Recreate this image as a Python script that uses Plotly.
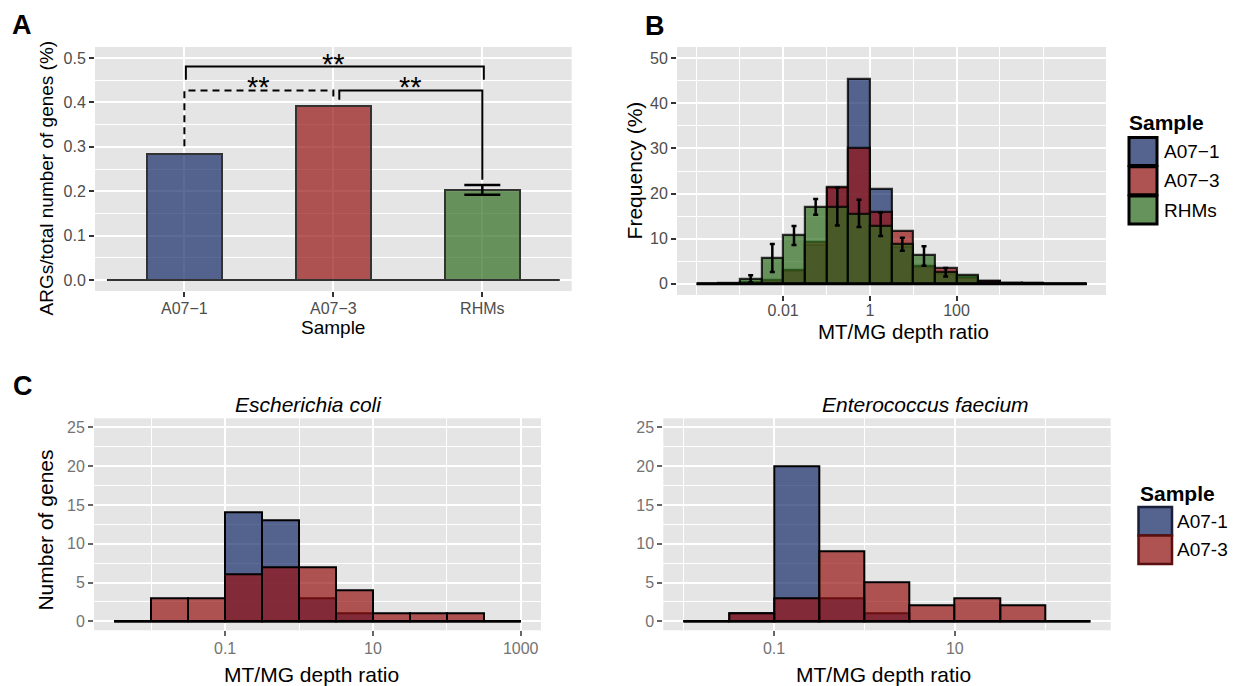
import plotly.graph_objects as go

W, H = 1234, 686

# ---------------- data ----------------
# Panel A
samples_A = ["A07\u22121", "A07\u22123", "RHMs"]
args_pct = [0.283, 0.392, 0.203]
args_err_lo = [None, None, 0.192]
args_err_hi = [None, None, 0.214]
A_yticks = [0.0, 0.1, 0.2, 0.3, 0.4, 0.5]
A_yminor = [0.05, 0.15, 0.25, 0.35, 0.45]
A_baseline_x = [-0.52, 2.52]
# significance brackets (category positions / values)
brackets = [
    dict(x0=0.01, x1=2.01, y=0.481, yl=0.451, yr=0.451, dash="solid"),
    dict(x0=0.0, x1=1.0, y=0.427, yl=0.301, yr=0.406, dash="7px,5px"),
    dict(x0=1.04, x1=2.0, y=0.427, yl=0.406, yr=0.226, dash="solid"),
]
sig_labels = [
    dict(x=1.0, y=0.481, text="**"),
    dict(x=0.5, y=0.427, text="**"),
    dict(x=1.52, y=0.427, text="**"),
]

# Panel B (log10 bin edges of MT/MG depth ratio, frequency %)
B_edges = [-4.0, -3.5, -3.0, -2.5, -2.0, -1.5, -1.0, -0.5, 0.0, 0.5,
           1.0, 1.5, 2.0, 2.5, 3.0, 3.5, 4.0, 4.5, 5.0]
B_A071 = [0, 0, 0.2, 0.4, 2.8, 8.7, 21.2, 45.4, 21.0, 8.2, 3.8, 2.2, 1.3, 0.6, 0.2, 0.1, 0, 0]
B_A073 = [0, 0, 0.3, 0.8, 3.1, 9.3, 21.4, 30.0, 15.9, 11.6, 3.9, 3.5, 1.5, 0.7, 0.2, 0.1, 0, 0]
B_RHMs = [0, 0.15, 1.1, 5.7, 10.8, 17.1, 17.0, 15.4, 12.9, 8.8, 6.3, 2.5, 2.0, 0.2, 0.1, 0, 0, 0]
B_RHMs_lo = [None, None, 0.3, 2.6, 8.6, 15.3, 12.9, 12.6, 10.6, 7.3, 4.0, 1.6, None, None, None, None, None, None]
B_RHMs_hi = [None, None, 1.9, 8.8, 12.8, 18.8, 21.3, 18.6, 15.8, 10.2, 8.3, 3.5, None, None, None, None, None, None]
B_xticks = [-2, 0, 2]
B_xticktext = ["0.01", "1", "100"]
B_xminor = [-4, -3, -1, 1, 3, 4]
B_yticks = [0, 10, 20, 30, 40, 50]
B_yminor = [5, 15, 25, 35, 45]

# Panel C
EC_edges = [-2.5, -2.0, -1.5, -1.0, -0.5, 0.0, 0.5, 1.0, 1.5, 2.0, 2.5, 3.0]
EC_A071 = [0, 0, 0, 14, 13, 3, 1, 0, 0, 0, 0]
EC_A073 = [0, 3, 3, 6, 7, 7, 4, 1, 1, 1, 0]
EF_edges = [-2.0, -1.5, -1.0, -0.5, 0.0, 0.5, 1.0, 1.5, 2.0, 2.5]
EF_A071 = [0, 1, 20, 3, 1, 0, 0, 0, 0]
EF_A073 = [0, 1, 3, 9, 5, 2, 3, 2, 0]
EC_xticks = [-1, 1, 3]
EC_xticktext = ["0.1", "10", "1000"]
EC_xminor = [-2, 0, 2]
EF_xticks = [-1, 1]
EF_xticktext = ["0.1", "10"]
EF_xminor = [-2, 0, 2]
C_yticks = [0, 5, 10, 15, 20, 25]
C_yminor = [2.5, 7.5, 12.5, 17.5, 22.5]

# ---------------- style ----------------
FONT = "Liberation Sans, Arial, Helvetica, sans-serif"
BLUE = "rgba(23,43,106,0.7)"
RED = "rgba(150,19,19,0.7)"
GREEN = "rgba(48,110,33,0.7)"
KEY_BLUE = "rgb(85,99,143)"
KEY_RED = "rgb(174,82,82)"
KEY_GREEN = "rgb(102,146,92)"
BG = "#E5E5E5"


def px(x):
    return x / W


def py(y):
    return 1 - y / H


def centers(edges):
    return [(a + b) / 2 for a, b in zip(edges[:-1], edges[1:])]


def widths(edges):
    return [b - a for a, b in zip(edges[:-1], edges[1:])]


fig = go.Figure()
ann = []

# ---------- Panel A ----------
fig.add_trace(go.Bar(
    x=list(range(len(samples_A))), y=args_pct, width=0.5,
    marker=dict(color=[BLUE, RED, GREEN], line=dict(color="#333333", width=2)),
    xaxis="x", yaxis="y", showlegend=False))
eb_x = [i for i, v in enumerate(args_err_lo) if v is not None]
fig.add_trace(go.Scatter(
    x=eb_x, y=[args_pct[i] for i in eb_x], mode="markers",
    marker=dict(size=0.1, color="rgba(0,0,0,0)"),
    error_y=dict(type="data", symmetric=False,
                 array=[args_err_hi[i] - args_pct[i] for i in eb_x],
                 arrayminus=[args_pct[i] - args_err_lo[i] for i in eb_x],
                 color="black", thickness=2.5, width=18),
    xaxis="x", yaxis="y", showlegend=False))
fig.add_trace(go.Scatter(x=A_baseline_x, y=[0, 0], mode="lines",
                         line=dict(color="#333333", width=2),
                         xaxis="x", yaxis="y", showlegend=False))
for b in brackets:
    fig.add_trace(go.Scatter(
        x=[b["x0"], b["x0"], b["x1"], b["x1"]], y=[b["yl"], b["y"], b["y"], b["yr"]],
        mode="lines", line=dict(color="black", width=2, dash=b["dash"]),
        xaxis="x", yaxis="y", showlegend=False))
for s in sig_labels:
    ann.append(dict(x=s["x"], y=s["y"], xref="x", yref="y", text=s["text"],
                    showarrow=False, xanchor="center", yanchor="middle", yshift=3,
                    font=dict(family=FONT, size=29, color="black")))

# ---------- Panel B ----------
bc, bw = centers(B_edges), widths(B_edges)
fig.add_trace(go.Scatter(x=[B_edges[0], B_edges[-1]], y=[0, 0], mode="lines",
                         line=dict(color="black", width=3),
                         xaxis="x2", yaxis="y2", showlegend=False))
for vals, col in [(B_A071, BLUE), (B_A073, RED), (B_RHMs, GREEN)]:
    fig.add_trace(go.Bar(x=bc, y=vals, width=bw,
                         marker=dict(color=col, line=dict(color="rgba(0,0,0,0.8)", width=2.2)),
                         xaxis="x2", yaxis="y2", showlegend=False))
eb_i = [i for i, v in enumerate(B_RHMs_lo) if v is not None]
fig.add_trace(go.Scatter(
    x=[bc[i] for i in eb_i], y=[B_RHMs[i] for i in eb_i], mode="markers",
    marker=dict(size=0.1, color="rgba(0,0,0,0)"),
    error_y=dict(type="data", symmetric=False,
                 array=[B_RHMs_hi[i] - B_RHMs[i] for i in eb_i],
                 arrayminus=[B_RHMs[i] - B_RHMs_lo[i] for i in eb_i],
                 color="black", thickness=2.5, width=2.5),
    xaxis="x2", yaxis="y2", showlegend=False))

# ---------- Panel C ----------
for edges, a1, a3, xa, ya in [(EC_edges, EC_A071, EC_A073, "x3", "y3"),
                              (EF_edges, EF_A071, EF_A073, "x4", "y4")]:
    cc, cw = centers(edges), widths(edges)
    fig.add_trace(go.Scatter(x=[edges[0], edges[-1]], y=[0, 0], mode="lines",
                             line=dict(color="black", width=2.5),
                             xaxis=xa, yaxis=ya, showlegend=False))
    for vals, col in [(a1, BLUE), (a3, RED)]:
        fig.add_trace(go.Bar(x=cc, y=vals, width=cw,
                             marker=dict(color=col, line=dict(color="black", width=2)),
                             xaxis=xa, yaxis=ya, showlegend=False))

# ---------- axes ----------
def xax(dom, rng, tv, tt, minor=None, anchor="y", tcol="#333333", fcol="#4D4D4D", standoff=-2):
    d = dict(domain=[px(dom[0]), px(dom[1])], range=rng, tickmode="array",
             tickvals=tv, ticktext=tt, showgrid=True, gridcolor="white", gridwidth=1.6,
             zeroline=False, showline=False, ticks="outside", ticklen=5, tickwidth=2.2,
             tickcolor=tcol, tickfont=dict(family=FONT, size=16, color=fcol),
             ticklabelstandoff=standoff, anchor=anchor, fixedrange=True)
    if minor:
        d["minor"] = dict(tickmode="array", tickvals=minor, showgrid=True,
                          gridcolor="white", gridwidth=0.8, ticks="")
    return d


def yax(dom, rng, tv, tt, minor, anchor, tcol="#333333", fcol="#4D4D4D"):
    return dict(domain=[py(dom[1]), py(dom[0])], range=rng, tickmode="array",
                tickvals=tv, ticktext=tt, showgrid=True, gridcolor="white", gridwidth=1.6,
                zeroline=False, showline=False, ticks="outside", ticklen=5, tickwidth=2.2,
                tickcolor=tcol, tickfont=dict(family=FONT, size=16, color=fcol),
                anchor=anchor, fixedrange=True,
                minor=dict(tickmode="array", tickvals=minor, showgrid=True,
                           gridcolor="white", gridwidth=0.8, ticks=""))


CT = "#666666"
CF = "#737373"
layout = dict(
    width=W, height=H, margin=dict(l=0, r=0, t=0, b=0),
    paper_bgcolor="white", plot_bgcolor=BG, barmode="overlay", bargap=0,
    showlegend=False, font=dict(family=FONT),
    xaxis=xax((95, 571.7), [-0.6, 2.6], [0, 1, 2], samples_A, anchor="y"),
    yaxis=yax((47, 291), [-0.025, 0.525], A_yticks, ["%.1f" % v for v in A_yticks], A_yminor, "x"),
    xaxis2=xax((677, 1106), [-4.45, 5.45], B_xticks, B_xticktext, B_xminor, anchor="y2", standoff=-4),
    yaxis2=yax((47, 295), [-2.5, 52.5], B_yticks, [str(v) for v in B_yticks], B_yminor, "x2"),
    xaxis3=xax((94, 541), [-2.775, 3.275], EC_xticks, EC_xticktext, EC_xminor, anchor="y3",
               tcol=CT, fcol=CF),
    yaxis3=yax((418.3, 630.3), [-1.16, 26.16], C_yticks, [str(v) for v in C_yticks], C_yminor, "x3",
               tcol=CT, fcol=CF),
    xaxis4=xax((663.3, 1110.7), [-2.225, 2.725], EF_xticks, EF_xticktext, EF_xminor, anchor="y4",
               tcol=CT, fcol=CF),
    yaxis4=yax((418.3, 630.3), [-1.16, 26.16], C_yticks, [str(v) for v in C_yticks], C_yminor, "x4",
               tcol=CT, fcol=CF),
)
fig.update_layout(**layout)

# ---------- text annotations ----------


def text(x, y, t, size, bold=False, italic=False, angle=0, xanchor="center", color="black"):
    s = t
    if bold:
        s = "<b>%s</b>" % s
    if italic:
        s = "<i>%s</i>" % s
    ann.append(dict(x=px(x), y=py(y), xref="paper", yref="paper", text=s, showarrow=False,
                    textangle=angle, xanchor=xanchor, yanchor="middle",
                    font=dict(family=FONT, size=size, color=color)))


text(22.5, 25, "A", 27, bold=True)
text(654.6, 25.5, "B", 27, bold=True)
text(22.7, 386.3, "C", 27, bold=True)

text(46.4, 178, "ARGs/total number of genes (%)", 19, angle=-90)
text(333, 328, "Sample", 19)
text(634.4, 170, "Frequency (%)", 21, angle=-90)
text(903, 331, "MT/MG depth ratio", 20.5)
text(44.6, 530, "Number of genes", 21, angle=-90)
text(312, 674, "MT/MG depth ratio", 21)
text(883, 674, "MT/MG depth ratio", 21)
text(308, 404, "Escherichia coli", 21, italic=True)
text(926, 404, "Enterococcus faecium", 21, italic=True)

# legends (drawn keys)
shapes = []
legB = [("A07\u22121", KEY_BLUE), ("A07\u22123", KEY_RED), ("RHMs", KEY_GREEN)]
text(1127, 122, "Sample", 21, bold=True, xanchor="left")
for i, (lab, col) in enumerate(legB):
    y0 = 137.5 + i * 29.3
    shapes.append(dict(type="rect", xref="paper", yref="paper",
                       x0=px(1129), x1=px(1157), y0=py(y0), y1=py(y0 + 28),
                       fillcolor=col, line=dict(color="black", width=3)))
    text(1162, y0 + 14, lab, 19, xanchor="left")

legC = [("A07-1", KEY_BLUE, "#1a1f3a"), ("A07-3", KEY_RED, "#5a1010")]
text(1138, 493, "Sample", 21, bold=True, xanchor="left")
for i, (lab, col, lc) in enumerate(legC):
    y0 = 507 + i * 28.5
    shapes.append(dict(type="rect", xref="paper", yref="paper",
                       x0=px(1138.5), x1=px(1172), y0=py(y0), y1=py(y0 + 28.5),
                       fillcolor=col, line=dict(color=lc, width=2.5)))
    text(1175, y0 + 14, lab, 19, xanchor="left")

fig.update_layout(annotations=ann, shapes=shapes)

fig.write_html("out.html", config={"displayModeBar": False},
               post_script="document.body.style.margin='0';")
